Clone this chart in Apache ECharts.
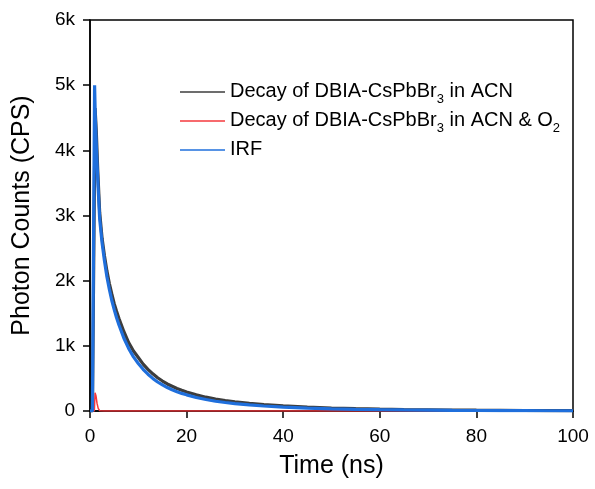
<!DOCTYPE html>
<html>
<head>
<meta charset="utf-8">
<script src="https://cdn.jsdelivr.net/npm/echarts@6/dist/echarts.min.js"></script>
<style>html,body{margin:0;padding:0;background:#fff}#c{width:595px;height:489px}</style>
</head>
<body>
<div id="c"></div>
<script>
// Time (ns) and photon counts (CPS)
const blackT = [0,0.5,0.85,1.05,1.3,1.6,2.0,2.5,3.0,3.5,4.0,4.5,5.0,5.5,6,7,8,9,10,11,12,13,14,15,16,17,18,19,20,22,24,26,28,30,33,36,40,45,50,55,60,65,70,75,80,85,90,95,100];
const blackV = [0,0,0,4650,4300,3700,3050,2650,2380,2150,1960,1800,1650,1530,1420,1220,1050,920,820,720,640,570,510,460,415,380,345,318,292,248,212,184,160,142,118,98,78,60,46,36,28,23,19,15,12,10,8,6,5];
const redT = [0,0.9,1.05,1.25,1.45,1.7,2.0,3,10,40,70,100];
const redV = [0,0,280,230,120,40,5,0,0,0,0,0];
const blueT = [0,0.5,0.8,0.95,1.1,1.4,1.7,2.0,2.5,3.0,3.5,4.0,4.5,5.0,5.5,6,7,8,9,10,11,12,13,14,15,16,17,18,19,20,22,24,26,28,30,33,36,40,45,50,55,60,65,70,75,80,85,90,95,100];
const blueV = [0,0,0,5000,4500,3900,3400,2950,2580,2300,2060,1870,1700,1560,1430,1320,1120,960,830,730,640,565,500,445,400,360,325,295,270,248,208,176,150,130,113,93,77,60,45,34,26,20,16,13,10,8,6,5,4,3];
const xTicks = [0,20,40,60,80,100];
const yTickLabels = ['0','1k','2k','3k','4k','5k','6k'];
const legendNames = ['black','red','blue'];

const zip = (t, v) => t.map((x, i) => [x, v[i]]);
const FONT = 'Liberation Sans, Arial, sans-serif';
const chart = echarts.init(document.getElementById('c'), null, {renderer: 'canvas'});
chart.setOption({
  animation: false,
  backgroundColor: '#fff',
  grid: {left: 90, right: 22, top: 20, bottom: 78, show: true, borderColor: '#000', borderWidth: 1.5, backgroundColor: 'transparent'},
  legend: {
    left: 180, top: 81, orient: 'vertical', itemWidth: 45, itemHeight: 10, itemGap: 4, padding: 0,
    icon: 'path://M0,4.3L45,4.3L45,5.7L0,5.7Z',
    data: legendNames,
    formatter: function (n) {
      if (n === 'black') return '{n|Decay of DBIA-CsPbBr}{s|3}{n| in ACN}';
      if (n === 'red') return '{n|Decay of DBIA-CsPbBr}{s|3}{n| in ACN & O}{s|2}';
      return '{n|IRF}';
    },
    textStyle: {
      color: '#000', fontFamily: FONT,
      rich: {
        n: {fontSize: 20, fontFamily: FONT, color: '#000', lineHeight: 22, verticalAlign: 'top'},
        s: {fontSize: 13, fontFamily: FONT, color: '#000', lineHeight: 13, verticalAlign: 'top', padding: [12, 0, 0, 0]}
      }
    }
  },
  xAxis: {
    type: 'value', min: 0, max: 100, interval: 20,
    name: 'Time (ns)', nameLocation: 'middle', nameGap: 43,
    nameTextStyle: {fontSize: 25, fontFamily: FONT, color: '#000'},
    axisLine: {show: true, lineStyle: {color: '#000', width: 1.5}},
    axisTick: {show: true, inside: false, length: 7, lineStyle: {color: '#000', width: 1.5}},
    axisLabel: {fontSize: 19, fontFamily: FONT, color: '#000', margin: 16,
      formatter: v => xTicks.indexOf(v) >= 0 ? String(v) : ''},
    splitLine: {show: false}
  },
  yAxis: {
    type: 'value', min: 0, max: 6000, interval: 1000,
    name: 'Photon Counts (CPS)', nameLocation: 'middle', nameGap: 55, nameRotate: 90,
    nameTextStyle: {fontSize: 25, fontFamily: FONT, color: '#000'},
    axisLine: {show: true, lineStyle: {color: '#000', width: 1.5}},
    axisTick: {show: true, inside: false, length: 7, lineStyle: {color: '#000', width: 1.5}},
    axisLabel: {fontSize: 19, fontFamily: FONT, color: '#000', margin: 15,
      formatter: v => yTickLabels[Math.round(v / 1000)]},
    splitLine: {show: false}
  },
  series: [
    {name: 'black', type: 'line', data: zip(blackT, blackV), showSymbol: false, color: '#3d3d3d', lineStyle: {width: 3.2, color: '#3d3d3d'}},
    {name: 'red', type: 'line', data: zip(redT, redV), showSymbol: false, color: '#f5383d', lineStyle: {width: 1.5, color: '#f5383d'}},
    {name: 'blue', type: 'line', data: zip(blueT, blueV), showSymbol: false, color: '#1f6fdc', lineStyle: {width: 3.2, color: '#1f6fdc'}}
  ]
});
</script>
</body>
</html>
